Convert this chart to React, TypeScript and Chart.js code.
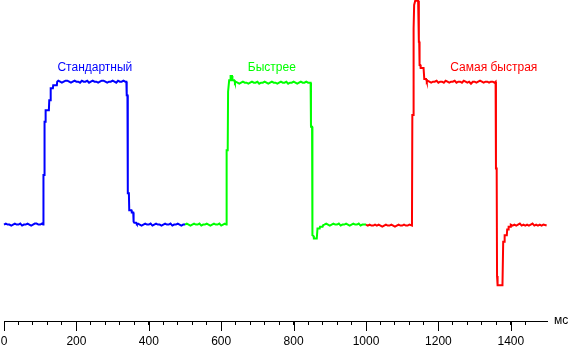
import React, { useEffect, useRef } from "react";
import { Chart, registerables } from "chart.js";

Chart.register(...registerables);

const xTickValues = [0, 200, 400, 600, 800, 1000, 1200, 1400];
const unitLabel = "мс";
const seriesNames = ["Стандартный", "Быстрее", "Самая быстрая"];
const seriesColors = ["#0000ff", "#00ff00", "#ff0000"];
const labelAnchors = [
  [251, 110],
  [740, 110],
  [1353, 110],
];

const blueSeries = [
  [0, 0], [5, 0.7], [10, 0], [15, 0], [20, -0.7], [25, 0], [30, 0.7], [35, 0], [40, 0], [45, 0.7],
  [50, -0.7], [55, 0], [60, 0], [65, 0.7], [70, 0], [75, -0.7], [80, 0], [85, 0.7], [90, 0.7], [95, 0],
  [100, 0], [105, 0.7], [108, 0],
  [109, 34.7], [111, 34.7], [112, 72], [114, 72], [115, 80], [124, 80], [125, 87], [128, 87], [129, 95.5],
  [135, 95.5], [136, 97.6], [146, 97.6], [147, 100],
  [150, 100.7], [155, 100], [160, 99.3], [165, 100], [170, 100.7], [175, 100.7], [180, 100], [185, 99.3],
  [190, 100], [195, 100.7], [200, 100], [205, 100], [210, 99.3], [215, 100.7], [220, 100], [225, 100],
  [230, 100.7], [235, 99.3], [240, 100], [245, 100.7], [250, 100], [255, 100], [260, 99.3], [265, 100],
  [270, 100.7], [275, 100.7], [280, 100], [285, 99.3], [290, 100], [295, 100], [300, 100.7], [305, 100],
  [310, 99.3], [315, 100.7], [320, 100], [325, 100], [330, 100.7], [335, 100], [338, 100],
  [339, 90.6], [341, 90.6], [342, 22], [345, 22], [346, 10], [352, 10], [353, 8.5], [357, 8.5], [358, 2],
  [360, 1.2], [365, 1.2], [367, 0.4],
  [370, 0.7], [375, 0], [380, -0.7], [385, 0], [390, 0.7], [395, 0], [400, 0], [405, 0.7], [410, -0.7],
  [415, 0], [420, 0.7], [425, 0], [430, 0], [435, -0.7], [440, 0], [445, 0.7], [450, 0], [455, 0],
  [460, 0.7], [465, -0.7], [470, 0], [475, 0], [480, 0.7], [485, 0], [490, -0.7], [495, 0], [500, 0],
];

const greenSeries = [
  [500, 0], [505, 0.7], [510, 0], [515, -0.7], [520, 0], [525, 0.7], [530, 0], [535, 0], [540, 0.7],
  [545, -0.7], [550, 0], [555, 0], [560, 0.7], [565, 0], [570, -0.7], [575, 0], [580, 0.7], [585, 0],
  [590, 0], [595, 0.7], [600, -0.7], [605, 0], [610, 0.7], [614, 0],
  [615, 52], [618, 52], [619, 93], [621, 93], [622, 101], [625, 101], [626, 104], [630, 104], [631, 101],
  [636, 101], [638, 99.3],
  [640, 100], [645, 99.3], [650, 98.6], [655, 99.3], [660, 100], [665, 99.3], [670, 99.3], [675, 98.6],
  [680, 99.3], [685, 100], [690, 99.3], [695, 99.3], [700, 100], [705, 98.6], [710, 99.3], [715, 99.3],
  [720, 100], [725, 99.3], [730, 98.6], [735, 99.3], [740, 100], [745, 99.3], [750, 99.3], [755, 98.6],
  [760, 99.3], [765, 100], [770, 99.3], [775, 99.3], [780, 100], [785, 98.6], [790, 99.3], [795, 99.3],
  [800, 100], [805, 99.3], [810, 98.6], [815, 99.3], [820, 100], [825, 99.3], [830, 99.3], [835, 100],
  [840, 99.3], [847, 99.3],
  [848, 68.5], [851, 68.5], [852, -7.4], [855, -8], [856, -9.7], [864, -9.7], [866, -2.7], [872, -2.7],
  [873, -1.5], [880, -1.5], [882, -0.3],
  [885, 0], [890, 0.7], [895, 0], [900, -0.7], [905, 0], [910, 0.7], [915, 0], [920, 0], [925, 0.7],
  [930, -0.7], [935, 0], [940, 0], [945, 0.7], [950, 0], [955, -0.7], [960, 0], [965, 0.7], [970, 0],
  [975, 0], [980, 0.7], [985, -0.7], [990, 0], [995, 0], [1000, 0],
];

const redSeries = [
  [1000, 0], [1005, -0.7], [1010, 0], [1015, -0.7], [1020, -0.7], [1025, 0], [1030, -0.7], [1035, 0],
  [1040, -0.7], [1045, -1.4], [1050, -0.7], [1055, 0], [1060, -0.7], [1065, -0.7], [1070, 0], [1075, -0.7],
  [1080, -1.4], [1085, -0.7], [1090, 0], [1095, -0.7], [1100, -0.7], [1105, 0], [1110, -0.7], [1115, -0.7],
  [1120, 0], [1127, -0.7],
  [1128, 76.7], [1130, 76.7], [1131, 137.3], [1132, 137.3], [1133, 153.7], [1135, 153.7], [1136, 156.7],
  [1144, 156.7], [1146, 128], [1147, 128], [1148, 111.7], [1150, 111.7], [1151, 109.6], [1159, 109.6],
  [1161, 101.9], [1166, 101.9], [1168, 100],
  [1170, 100.7], [1175, 100], [1180, 99.3], [1185, 100], [1190, 100], [1195, 100.7], [1200, 99.3],
  [1205, 100], [1210, 100], [1215, 99.3], [1220, 100.7], [1225, 100], [1230, 99.3], [1235, 100],
  [1240, 100], [1245, 100.7], [1250, 99.3], [1255, 100], [1260, 100], [1265, 99.3], [1270, 100.7],
  [1275, 100], [1280, 99.3], [1285, 100], [1290, 98.6], [1295, 100], [1300, 100], [1305, 99.3],
  [1310, 100], [1315, 100.7], [1320, 100], [1325, 99.3], [1330, 100], [1335, 100], [1340, 99.3],
  [1345, 100], [1350, 100], [1355, 99.3], [1358, 100],
  [1359, 39.3], [1361, 39.3], [1362, -36], [1363, -36], [1364, -42.4], [1377, -42.4], [1379, -12],
  [1382, -12], [1383, -7.4], [1389, -7.4], [1390, -3.4], [1393, -3.4], [1394, -1.5], [1398, -1.5], [1400, 0],
  [1405, -0.7], [1410, 0], [1415, -0.7], [1420, 0], [1425, 0.7], [1430, -0.7], [1435, 0], [1440, -0.7],
  [1445, 0], [1450, -0.7], [1455, 0], [1460, 0.7], [1465, -0.7], [1470, 0], [1475, -0.7], [1480, 0],
  [1485, -0.7], [1490, 0], [1499, -0.7],
];

const allSeries = [blueSeries, greenSeries, redSeries];

const FONT = "'Liberation Sans', Arial, sans-serif";

const overlayPlugin = {
  id: "overlay",
  afterDraw(chart: any) {
    const ctx = chart.ctx;
    const xs = chart.scales.x;
    const ys = chart.scales.y;
    const bottom = chart.chartArea.bottom;
    ctx.save();
    ctx.strokeStyle = "#000";
    ctx.lineWidth = 1;
    ctx.beginPath();
    for (const v of xTickValues) {
      const px = Math.round(xs.getPixelForValue(v)) + 0.5;
      ctx.moveTo(px, Math.round(bottom));
      ctx.lineTo(px, Math.round(bottom) + 10);
    }
    ctx.stroke();
    ctx.fillStyle = "#000";
    ctx.font = `12px ${FONT}`;
    ctx.textAlign = "left";
    ctx.textBaseline = "middle";
    ctx.fillText(unitLabel, xs.right + 7, bottom);
    ctx.textAlign = "center";
    seriesNames.forEach((name, i) => {
      ctx.fillStyle = seriesColors[i];
      ctx.fillText(
        name,
        xs.getPixelForValue(labelAnchors[i][0]),
        ys.getPixelForValue(labelAnchors[i][1])
      );
    });
    ctx.restore();
  },
};

export default function App() {
  const canvasRef = useRef<HTMLCanvasElement>(null);

  useEffect(() => {
    if (!canvasRef.current) return;
    const chart = new Chart(canvasRef.current, {
      type: "line",
      data: {
        datasets: allSeries.map((s, i) => ({
          label: seriesNames[i],
          data: s.map(([x, y]) => ({ x, y })),
          borderColor: seriesColors[i],
          backgroundColor: seriesColors[i],
          borderWidth: 2,
          pointRadius: 0,
          tension: 0,
          fill: false,
          clip: false as any,
        })),
      },
      options: {
        responsive: false,
        animation: false,
        events: [],
        layout: { padding: { left: 4, right: 22, top: 0, bottom: 0 } },
        plugins: {
          legend: { display: false },
          tooltip: { enabled: false },
        },
        scales: {
          x: {
            type: "linear",
            min: 0,
            max: 1500,
            afterBuildTicks: (scale: any) => {
              scale.ticks = scale.ticks.filter((t: any) => t.value % 40 === 0 && t.value < 1500);
            },
            afterFit: (scale: any) => {
              scale.height = 25;
              scale.paddingLeft = 0;
              scale.paddingRight = 0;
            },
            ticks: {
              stepSize: 40,
              autoSkip: false,
              maxRotation: 0,
              padding: 9,
              color: "#000",
              font: { family: FONT, size: 12 },
              callback: (v: any) => (Number(v) % 200 === 0 ? String(v) : ""),
            },
            grid: {
              display: true,
              drawOnChartArea: false,
              drawTicks: true,
              tickLength: 4,
              tickColor: "#000",
              tickWidth: 1,
            },
            border: { display: true, color: "#000", width: 1 },
          },
          y: {
            type: "linear",
            display: false,
            min: -67.5,
            max: 157.2,
          },
        },
      },
      plugins: [overlayPlugin],
    });
    return () => chart.destroy();
  }, []);

  return (
    <div style={{ position: "absolute", left: 0, top: 0, width: 569, height: 346, background: "#fff" }}>
      <canvas ref={canvasRef} width={569} height={346} style={{ display: "block" }} />
    </div>
  );
}
